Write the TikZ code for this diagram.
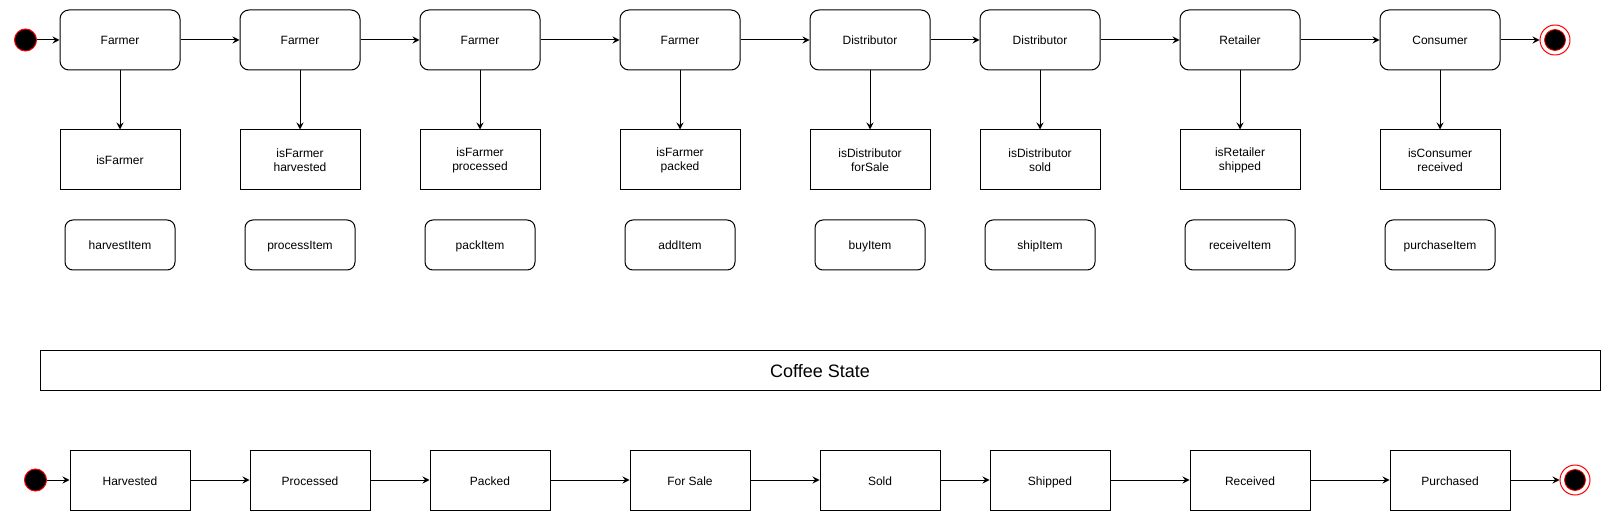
\documentclass[tikz,border=0pt]{standalone}
\usepackage{fontspec}
\setmainfont{Liberation Sans}
\usetikzlibrary{arrows.meta}
\begin{document}
\begin{tikzpicture}[x=1pt,y=-1pt,
  every node/.style={font=\fontsize{12}{13.8}\selectfont, inner sep=0pt},
  oneline/.style={text height=10pt, text depth=0pt},
  actor/.style={draw, rounded corners=9pt, minimum width=120pt, minimum height=60pt, line width=1pt, oneline},
  cond/.style={draw, minimum width=120pt, minimum height=60pt, align=center, line width=1pt},
  twoline/.style={text height=15pt, text depth=13pt},
  fn/.style={draw, rounded corners=8pt, minimum width=110pt, minimum height=50pt, line width=1pt, oneline},
  st/.style={draw, minimum width=120pt, minimum height=60pt, line width=1pt, oneline},
  init/.style={circle, fill=black, draw=red, minimum size=22pt, line width=1pt},
  fin/.style={circle, draw=red, fill=white, minimum size=30pt, line width=1pt},
  finin/.style={circle, fill=black, draw=red, minimum size=21pt, line width=0.8pt},
  arr/.style={-{Stealth[length=7pt,width=7pt,inset=2.5pt]}, line width=1pt}]
\useasboundingbox (0,0) rectangle (1611,521);

% top row
\node[init] (i1) at (25.5,40) {};
\foreach \n/\x/\t in {a1/120/Farmer,a2/300/Farmer,a3/480/Farmer,a4/680/Farmer,a5/870/Distributor,a6/1040/Distributor,a7/1240/Retailer,a8/1440/Consumer}
  \node[actor] (\n) at (\x,40) {\t};
\node[fin] (f1) at (1555,40) {};
\node[finin] (f1in) at (1555,40) {};

\node[cond, oneline] (c1) at (120,160) {isFarmer};
\node[cond] (c2) at (300,160) {isFarmer\\harvested};
\node[cond] (c3) at (480,160) {isFarmer\\processed};
\node[cond] (c4) at (680,160) {isFarmer\\packed};
\node[cond] (c5) at (870,160) {isDistributor\\forSale};
\node[cond] (c6) at (1040,160) {isDistributor\\sold};
\node[cond] (c7) at (1240,160) {isRetailer\\shipped};
\node[cond] (c8) at (1440,160) {isConsumer\\received};

\node[fn] (g1) at (120,245) {harvestItem};
\node[fn] (g2) at (300,245) {processItem};
\node[fn] (g3) at (480,245) {packItem};
\node[fn] (g4) at (680,245) {addItem};
\node[fn] (g5) at (870,245) {buyItem};
\node[fn] (g6) at (1040,245) {shipItem};
\node[fn] (g7) at (1240,245) {receiveItem};
\node[fn] (g8) at (1440,245) {purchaseItem};

\draw[arr] (i1) -- (a1);
\draw[arr] (a1) -- (a2);
\draw[arr] (a2) -- (a3);
\draw[arr] (a3) -- (a4);
\draw[arr] (a4) -- (a5);
\draw[arr] (a5) -- (a6);
\draw[arr] (a6) -- (a7);
\draw[arr] (a7) -- (a8);
\draw[arr] (a8) -- (f1);
\foreach \k in {1,...,8} \draw[arr] (a\k) -- (c\k);

% coffee state
\node[draw, line width=1pt, minimum width=1560pt, minimum height=40pt, text height=14pt, text depth=0pt, font=\fontsize{18}{20}\selectfont] (cs) at (820,370) {Coffee State};

% bottom row
\node[init] (i2) at (35.5,480) {};
\node[st] (s1) at (130,480) {Harvested};
\node[st] (s2) at (310,480) {Processed};
\node[st] (s3) at (490,480) {Packed};
\node[st] (s4) at (690,480) {For Sale};
\node[st] (s5) at (880,480) {Sold};
\node[st] (s6) at (1050,480) {Shipped};
\node[st] (s7) at (1250,480) {Received};
\node[st] (s8) at (1450,480) {Purchased};
\node[fin] (f2) at (1575,480) {};
\node[finin] (f2in) at (1575,480) {};

\draw[arr] (i2) -- (s1);
\draw[arr] (s1) -- (s2);
\draw[arr] (s2) -- (s3);
\draw[arr] (s3) -- (s4);
\draw[arr] (s4) -- (s5);
\draw[arr] (s5) -- (s6);
\draw[arr] (s6) -- (s7);
\draw[arr] (s7) -- (s8);
\draw[arr] (s8) -- (f2);
\end{tikzpicture}
\end{document}
